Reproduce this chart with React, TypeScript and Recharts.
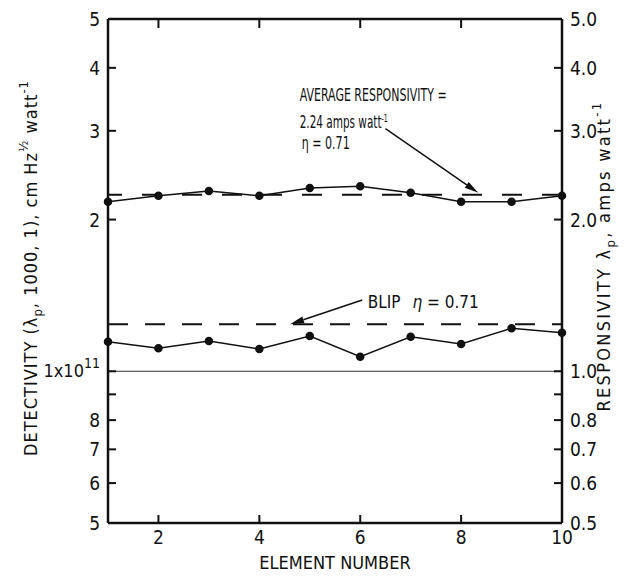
import React from 'react';
import { LineChart, Line, XAxis, YAxis, ReferenceLine, ReferenceDot } from 'recharts';

const elements = [1, 2, 3, 4, 5, 6, 7, 8, 9, 10];
const responsivity = [2.17, 2.23, 2.28, 2.23, 2.31, 2.33, 2.26, 2.17, 2.17, 2.23];
const detectivity = [1.145e11, 1.111e11, 1.148e11, 1.107e11, 1.175e11, 1.069e11, 1.171e11, 1.133e11, 1.217e11, 1.193e11];
const averageResponsivity = 2.24;
const blipDetectivity = 1.24e11;
const unitDetectivity = 1e11;

const bottomTicks = [2, 4, 6, 8, 10];
const topTicks = [2, 4, 6, 8];
const leftTicks = [5e10, 6e10, 7e10, 8e10, 9e10, 1e11, 2e11, 3e11, 4e11, 5e11];
const leftTickLabels = ['5', '6', '7', '8', '', '1x10^11', '2', '3', '4', '5'];
const rightTicks = [0.5, 0.6, 0.7, 0.8, 0.9, 1, 2, 3, 4, 5];
const rightTickLabels = ['0.5', '0.6', '0.7', '0.8', '', '1.0', '2.0', '3.0', '4.0', '5.0'];

// annotation anchors (data coordinates)
const avgTextAt = { x: 4.8, y: 3.39 };
const avgArrow = [{ x: 6.5, y: 3.03 }, { x: 8.34, y: 2.26 }];
const blipTextAt = { x: 6.15, y: 1.335e11 };
const blipArrow = [{ x: 6.04, y: 1.385e11 }, { x: 4.61, y: 1.24e11 }];

const data = elements.map((e, i) => ({ el: e, resp: responsivity[i], det: detectivity[i] }));

const FONT = "'DejaVu Sans Condensed', 'Liberation Sans Narrow', 'DejaVu Sans', sans-serif";
const TM = 8;

const txt = { fontFamily: FONT, fontStretch: 'condensed' as any, fill: '#111' };

const LeftTick = (p: any) => {
  const i = leftTicks.indexOf(p.payload.value);
  const lab = leftTickLabels[i] ?? '';
  const ax = p.x + TM;
  const isEnd = i === 0 || i === leftTicks.length - 1;
  return (
    <g>
      {!isEnd && <line x1={ax} x2={ax + 8} y1={p.y} y2={p.y} stroke="#111" strokeWidth={2} />}
      {lab.includes('^') ? (
        <text x={p.x} y={p.y + 6} textAnchor="end" fontSize={18} {...txt}>
          {lab.split('^')[0]}
          <tspan dy={-9} fontSize={14}>{lab.split('^')[1]}</tspan>
        </text>
      ) : (
        <text x={p.x} y={p.y + 7} textAnchor="end" fontSize={19} {...txt}>{lab}</text>
      )}
    </g>
  );
};

const RightTick = (p: any) => {
  const i = rightTicks.indexOf(p.payload.value);
  const lab = rightTickLabels[i] ?? '';
  const ax = p.x - TM;
  const isEnd = i === 0 || i === rightTicks.length - 1;
  return (
    <g>
      {!isEnd && <line x1={ax} x2={ax - 8} y1={p.y} y2={p.y} stroke="#111" strokeWidth={2} />}
      <text x={p.x} y={p.y + 7} textAnchor="start" fontSize={19} {...txt}>{lab}</text>
    </g>
  );
};

const BottomTick = (p: any) => {
  const v = p.payload.value;
  const ay = p.y - TM;
  return (
    <g>
      {v !== 10 && <line x1={p.x} x2={p.x} y1={ay} y2={ay - 8} stroke="#111" strokeWidth={2} />}
      <text x={p.x} y={p.y + 13} textAnchor="middle" fontSize={19} {...txt}>{v}</text>
    </g>
  );
};

const TopTick = (p: any) => (
  <line x1={p.x} x2={p.x} y1={p.y} y2={p.y + 9} stroke="#111" strokeWidth={2} />
);

const Arrow = (p: any) => {
  const { x1, y1, x2, y2 } = p;
  const ang = Math.atan2(y2 - y1, x2 - x1);
  const L = 14, W = 3.5;
  const bx = x2 - L * Math.cos(ang), by = y2 - L * Math.sin(ang);
  const nx = -Math.sin(ang), ny = Math.cos(ang);
  return (
    <g>
      <line x1={x1} y1={y1} x2={bx} y2={by} stroke="#111" strokeWidth={1.5} />
      <polygon points={`${x2},${y2} ${bx + nx * W},${by + ny * W} ${bx - nx * W},${by - ny * W}`} fill="#111" />
    </g>
  );
};

const AvgText = (p: any) => (
  <g>
    <text x={p.cx} y={p.cy - 3} fontSize={17} textLength={147} lengthAdjust="spacingAndGlyphs" {...txt}>AVERAGE RESPONSIVITY =</text>
    <text x={p.cx} y={p.cy + 24} fontSize={17} textLength={88} lengthAdjust="spacingAndGlyphs" {...txt}>
      2.24 amps watt<tspan dy={-6} fontSize={10}>-1</tspan>
    </text>
    <text x={p.cx + 2} y={p.cy + 45} fontSize={17} textLength={48} lengthAdjust="spacingAndGlyphs" {...txt}>
      η = 0.71
    </text>
  </g>
);

const BlipText = (p: any) => (
  <text x={p.cx} y={p.cy} fontSize={17} {...txt}>
    BLIP<tspan dx={12} fontStyle="italic">η</tspan> = 0.71
  </text>
);

const LeftTitle = (p: any) => {
  const vb = p.viewBox;
  const cx = vb.x + 37;
  const cy = vb.y + vb.height / 2 - 3;
  return (
    <text x={cx} y={cy} transform={`rotate(-90, ${cx}, ${cy})`} textAnchor="middle" fontSize={18} letterSpacing={1} {...txt}>
      DETECTIVITY (λ<tspan dy={5} fontSize={13}>p</tspan><tspan dy={-5}>, 1000, 1),  cm  Hz</tspan>
      <tspan dy={-9} fontSize={13}>½</tspan><tspan dy={9}> watt</tspan>
      <tspan dy={-9} fontSize={13}>-1</tspan>
    </text>
  );
};

const RightTitle = (p: any) => {
  const vb = p.viewBox;
  const cx = vb.x + 48;
  const cy = vb.y + vb.height / 2 - 15;
  return (
    <text x={cx} y={cy} transform={`rotate(-90, ${cx}, ${cy})`} textAnchor="middle" fontSize={18} letterSpacing={2.3} {...txt}>
      RESPONSIVITY λ<tspan dy={5} fontSize={13}>p</tspan><tspan dy={-5}>,  amps  watt</tspan>
      <tspan dy={-9} fontSize={13}>-1</tspan>
    </text>
  );
};

const BottomTitle = (p: any) => {
  const vb = p.viewBox;
  return (
    <text x={vb.x + vb.width / 2} y={vb.y + 46} textAnchor="middle" fontSize={18} {...txt}>ELEMENT NUMBER</text>
  );
};

export default function App() {
  return (
    <div style={{ position: 'absolute', left: 0, top: 0, width: 641, height: 576, background: '#fff' }}>
      <LineChart width={641} height={576} data={data} margin={{ top: 0, right: 0, bottom: 0, left: 0 }}>
        <XAxis xAxisId="b" dataKey="el" type="number" domain={[1, 10]} ticks={bottomTicks} interval={0}
          orientation="bottom" height={53} tickSize={0} tickMargin={TM} tick={<BottomTick />}
          axisLine={{ stroke: '#111', strokeWidth: 2.5 }} tickLine={false}
          label={{ content: <BottomTitle /> }} />
        <XAxis xAxisId="t" dataKey="el" type="number" domain={[1, 10]} ticks={topTicks} interval={0}
          orientation="top" height={19} tickSize={0} tickMargin={0} tick={<TopTick />}
          axisLine={{ stroke: '#111', strokeWidth: 2.5 }} tickLine={false} />
        <YAxis yAxisId="left" orientation="left" scale="log" domain={[5e10, 5e11]} ticks={leftTicks}
          interval={0} width={108} tickSize={0} tickMargin={TM} tick={<LeftTick />} allowDataOverflow
          axisLine={{ stroke: '#111', strokeWidth: 2.5 }} tickLine={false}
          label={{ content: <LeftTitle /> }} />
        <YAxis yAxisId="right" orientation="right" scale="log" domain={[0.5, 5]} ticks={rightTicks}
          interval={0} width={79} tickSize={0} tickMargin={TM} tick={<RightTick />} allowDataOverflow
          axisLine={{ stroke: '#111', strokeWidth: 2.5 }} tickLine={false}
          label={{ content: <RightTitle /> }} />

        <ReferenceLine xAxisId="b" yAxisId="left" y={unitDetectivity} stroke="#333" strokeWidth={1} />
        <ReferenceLine xAxisId="b" yAxisId="right" y={averageResponsivity} stroke="#111" strokeWidth={2} strokeDasharray="20 20" />
        <ReferenceLine xAxisId="b" yAxisId="left" y={blipDetectivity} stroke="#111" strokeWidth={2} strokeDasharray="20 17" />

        <Line xAxisId="b" yAxisId="right" dataKey="resp" stroke="#111" strokeWidth={1.5}
          dot={{ r: 3.5, fill: '#111', stroke: '#111' }} isAnimationActive={false} />
        <Line xAxisId="b" yAxisId="left" dataKey="det" stroke="#111" strokeWidth={1.5}
          dot={{ r: 3.5, fill: '#111', stroke: '#111' }} isAnimationActive={false} />

        <ReferenceLine xAxisId="b" yAxisId="right" segment={avgArrow} shape={<Arrow />} />
        <ReferenceLine xAxisId="b" yAxisId="left" segment={blipArrow} shape={<Arrow />} />
        <ReferenceDot xAxisId="b" yAxisId="right" x={avgTextAt.x} y={avgTextAt.y} r={0} shape={<AvgText />} />
        <ReferenceDot xAxisId="b" yAxisId="left" x={blipTextAt.x} y={blipTextAt.y} r={0} shape={<BlipText />} />
      </LineChart>
    </div>
  );
}
